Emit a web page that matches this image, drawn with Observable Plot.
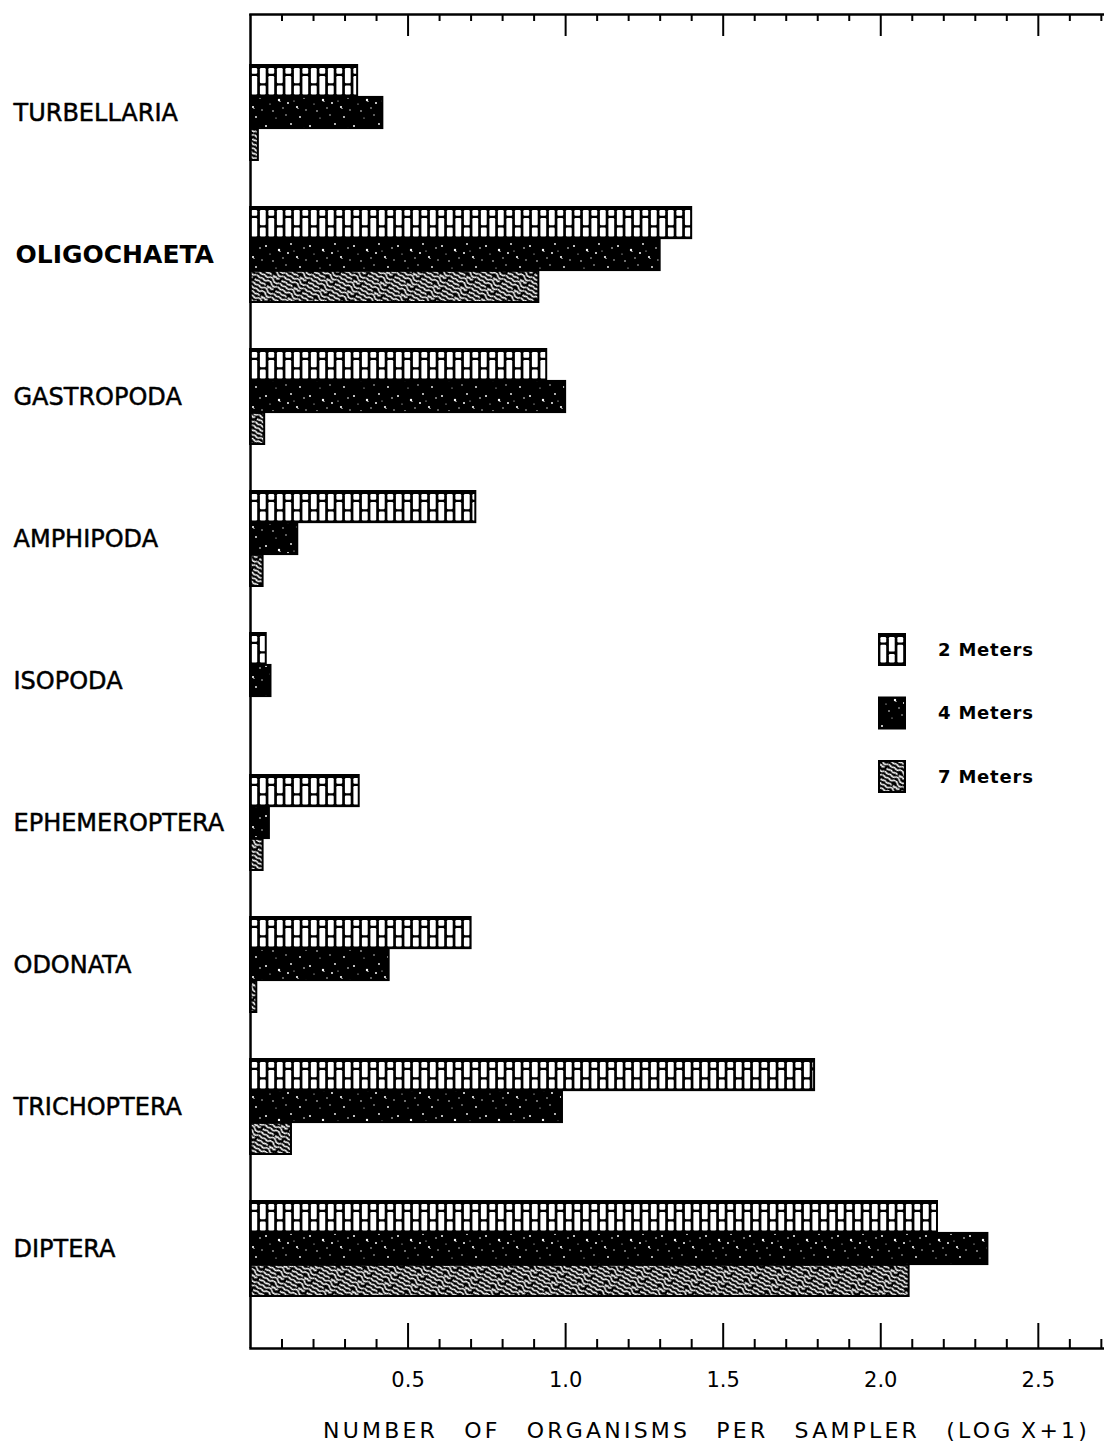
<!DOCTYPE html>
<html><head><meta charset="utf-8">
<script src="https://cdn.jsdelivr.net/npm/d3@7"></script>
<script src="https://cdn.jsdelivr.net/npm/@observablehq/plot@0.6"></script>
<style>html,body{margin:0;padding:0;background:#fff}</style>
</head><body><div id="chart"></div>
<script>
const categories = ["TURBELLARIA","OLIGOCHAETA","GASTROPODA","AMPHIPODA","ISOPODA","EPHEMEROPTERA","ODONATA","TRICHOPTERA","DIPTERA"];
const depths = ["2 Meters","4 Meters","7 Meters"];
const values2m = [0.34, 1.40, 0.94, 0.715, 0.05, 0.345, 0.70, 1.79, 2.18];
const values4m = [0.42, 1.30, 1.00, 0.15, 0.065, 0.06, 0.44, 0.99, 2.34];
const values7m = [0.025, 0.915, 0.045, 0.04, 0, 0.04, 0.02, 0.13, 2.09];
const majorTicks = [0.5, 1.0, 1.5, 2.0, 2.5];
const minorTicks = [0.1,0.2,0.3,0.4,0.6,0.7,0.8,0.9,1.1,1.2,1.3,1.4,1.6,1.7,1.8,1.9,2.1,2.2,2.3,2.4,2.6,2.7];
const xTitle = "NUMBER OF ORGANISMS PER SAMPLER (LOG\u2009X+1)";
const boldCategory = "OLIGOCHAETA";
const patternIds = ["pat2", "pat4", "pat7"];

const W = 1104, H = 1443, mT = 14, mB = 95, mL = 250, mR = 0;
const innerH = H - mT - mB;
const yOpts = {type: "band", domain: categories, paddingInner: 0.33, paddingOuter: 0.33};
const yPre = Plot.scale({y: {...yOpts, range: [mT, H - mB]}});
const barH = yPre.bandwidth / 3;

const valuesByDepth = [values2m, values4m, values7m];
const rows = [];
depths.forEach((dep, j) => categories.forEach((c, i) => rows.push({category: c, depth: dep, value: valuesByDepth[j][i]})));

const barMarks = depths.map((dep, j) => Plot.barX(rows.filter(d => d.depth === dep), {
  x: "value", y: "category",
  fill: `url(#${patternIds[j]})`, stroke: "black", strokeWidth: 2,
  insetTop: j * barH, insetBottom: (2 - j) * barH
}));

const plot = Plot.plot({
  width: W, height: H,
  marginTop: mT, marginBottom: mB, marginLeft: mL, marginRight: mR,
  style: {fontFamily: "DejaVu Sans", fontSize: "21px", color: "black", background: "white"},
  x: {domain: [0, 2.71], ticks: majorTicks, tickFormat: d3.format(".1f"), tickSize: 0, tickPadding: 24, label: null, axis: "bottom"},
  y: {...yOpts, axis: null},
  marks: [
    ...barMarks,
    Plot.ruleX([0], {stroke: "black", strokeWidth: 2.5}),
    Plot.frame({anchor: "top", stroke: "black", strokeWidth: 2.5}),
    Plot.frame({anchor: "bottom", stroke: "black", strokeWidth: 2.5}),
    Plot.ruleX(minorTicks, {stroke: "black", strokeWidth: 2, insetBottom: innerH - 7}),
    Plot.ruleX(majorTicks, {stroke: "black", strokeWidth: 2, insetBottom: innerH - 22}),
    Plot.ruleX(minorTicks, {stroke: "black", strokeWidth: 2, insetTop: innerH - 9}),
    Plot.ruleX(majorTicks, {stroke: "black", strokeWidth: 2, insetTop: innerH - 25}),
    Plot.text(categories, {y: d => d, text: d => d, frameAnchor: "left", textAnchor: "start", dx: -237, fontSize: 24, fill: "black", stroke: "black", strokeWidth: 0.5, filter: d => d !== boldCategory}),
    Plot.text(categories, {y: d => d, text: d => d, frameAnchor: "left", textAnchor: "start", dx: -235, fontSize: 25, fontWeight: "bold", fill: "black", filter: d => d === boldCategory}),
    Plot.text([xTitle], {text: d => d, frameAnchor: "bottom", lineAnchor: "bottom", dx: 29, dy: 89, fontSize: 22, fill: "black"})
  ]
});

document.getElementById("chart").appendChild(plot);

// ---- patterns ----
const svg = d3.select(plot);
const defs = svg.insert("defs", ":first-child");
const ys = plot.scale("y");

function addBrick(id, x0, y0, tileH, bh) {
  const p = defs.append("pattern").attr("id", id).attr("patternUnits", "userSpaceOnUse")
    .attr("x", x0).attr("y", y0).attr("width", 17).attr("height", tileH);
  p.append("rect").attr("width", 17).attr("height", tileH).attr("fill", "black");
  const top = 3, bot = bh - 2.5;
  const a = top + (bot - top) * 0.26, b = top + (bot - top) * 0.62;
  const seg = (x, y1, y2) => p.append("rect").attr("x", x).attr("y", y1).attr("width", 5.8).attr("height", y2 - y1).attr("rx", 1.2).attr("fill", "white");
  seg(1.4, top, a - 1.2); seg(1.4, a + 1.2, bot);
  seg(9.9, top, b - 1.2); seg(9.9, b + 1.2, bot);
}
function addSpeck(id) {
  const p = defs.append("pattern").attr("id", id).attr("patternUnits", "userSpaceOnUse").attr("width", 44).attr("height", 30);
  p.append("rect").attr("width", 44).attr("height", 30).attr("fill", "black");
  const specks = [[2,6,1.0],[9,21,0.8],[15,10,1.2],[22,25,0.7],[27,4,0.9],[33,17,1.1],[40,8,0.8],[6,14,0.6],[19,18,0.7],[36,27,0.9],[12,28,0.6],[30,11,0.6],[42,20,0.7],[24,13,1.0],[16,11.5,0.6],[34,18.5,0.6]];
  specks.forEach(([x, y, r]) => p.append("circle").attr("cx", x).attr("cy", y).attr("r", r).attr("fill", "white"));
}
function addWorm(id) {
  const p = defs.append("pattern").attr("id", id).attr("patternUnits", "userSpaceOnUse").attr("width", 24).attr("height", 12).attr("patternTransform", "rotate(30)");
  p.append("rect").attr("width", 24).attr("height", 12).attr("fill", "black");
  const paths = [
    "M-1,2 c2,-2 4,2 6,0 s4,2 6,0 s4,-2 6,0 s4,2 6,0",
    "M0,6 c2,2 4,-2 6,0 s4,-2 6,0 M15,6 c1,2 2,-1 3,0 s2,1 3,0",
    "M-1,10 c2,-2 4,2 6,0 s4,2 6,0 s4,-2 6,0 s4,2 6,0"
  ];
  paths.forEach(d => p.append("path").attr("d", d).attr("fill", "none").attr("stroke", "white").attr("stroke-width", 1.7).attr("stroke-linecap", "round"));
}
addBrick("pat2", mL, ys.apply(categories[0]), ys.step, barH);
addSpeck("pat4");
addWorm("pat7");

// title spacing
svg.selectAll("text").filter(function () { return this.textContent === xTitle; })
  .style("letter-spacing", "3.2px").style("word-spacing", "16px");

// ---- legend ----
const legX = 879, legY0 = 634, legStep = 63.5, sw = 26, sh = 31;
addBrick("pat2leg", legX, legY0, 400, sh);
const legIds = ["pat2leg", "pat4", "pat7"];
const leg = svg.append("g").attr("class", "legend");
depths.forEach((dep, j) => {
  const y = legY0 + j * legStep;
  leg.append("rect").attr("x", legX).attr("y", y).attr("width", sw).attr("height", sh)
    .attr("fill", `url(#${legIds[j]})`).attr("stroke", "black").attr("stroke-width", 2);
  leg.append("text").attr("x", 938).attr("y", y + sh / 2).attr("dy", "0.35em")
    .attr("text-anchor", "start")
    .attr("font-family", "DejaVu Sans").attr("font-weight", "bold").attr("font-size", 18)
    .style("letter-spacing", "0.8px").attr("fill", "black").text(dep);
});
</script>
</body></html>
